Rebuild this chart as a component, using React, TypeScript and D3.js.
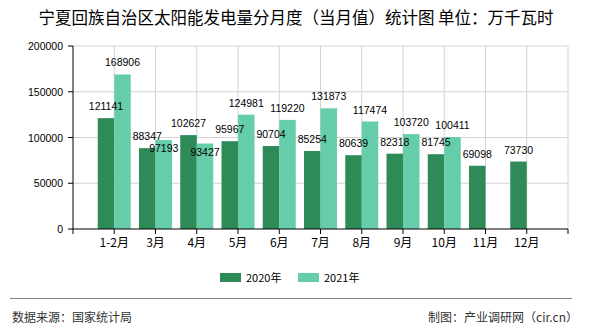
import React from "react";
import * as d3 from "d3";

const months = ["1-2月", "3月", "4月", "5月", "6月", "7月", "8月", "9月", "10月", "11月", "12月"];
const values2020 = [121141, 88347, 102627, 95967, 90704, 85254, 80639, 82318, 81745, 69098, 73730];
const values2021: (number | null)[] = [168906, 97193, 93427, 124981, 119220, 131873, 117474, 103720, 100411, null, null];
const yTicks = [0, 50000, 100000, 150000, 200000];
const seriesNames = ["2020年", "2021年"];
const colors = ["#2e8b57", "#66cdaa"];

const W = 590;
const H = 330;
const left = 73;
const right = 568;
const top = 46;
const bottom = 229;

export default function App() {
  const domain = ["__start", ...months, "__end"];
  const x = d3.scalePoint<string>().domain(domain).range([left, right]);
  const step = x.step();
  const y = d3.scaleLinear().domain([0, 200000]).range([bottom, top]);
  const barW = step * 0.4;
  const labelFont = "'Liberation Sans', Arial, sans-serif";
  const cjk = "'Noto Sans CJK SC', sans-serif";

  const bars: React.ReactNode[] = [];
  const labels: React.ReactNode[] = [];
  months.forEach((m, i) => {
    const cx = x(m)!;
    const v0 = values2020[i];
    const v1 = values2021[i];
    const t0 = y(v0);
    bars.push(<rect key={"a" + i} x={cx - barW} y={t0} width={barW} height={bottom - t0} fill={colors[0]} />);
    labels.push(
      <text key={"la" + i} x={cx - barW / 2} y={t0 - 8} textAnchor="middle" fontSize={10.5} fontFamily={labelFont} fill="#000">
        {v0}
      </text>
    );
    if (v1 != null) {
      const t1 = y(v1);
      bars.push(<rect key={"b" + i} x={cx} y={t1} width={barW} height={bottom - t1} fill={colors[1]} />);
      const overlap = Math.abs(t1 - t0) < 12;
      labels.push(
        <text key={"lb" + i} x={cx + barW / 2} y={overlap ? t1 + 12 : t1 - 8} textAnchor="middle" fontSize={10.5} fontFamily={labelFont} fill="#000">
          {v1}
        </text>
      );
    }
  });

  return (
    <svg width={W} height={H} style={{ position: "absolute", left: 0, top: 0, background: "#fff" }}>
      <rect x={0} y={0} width={W} height={H} fill="#fff" />
      <text x={296} y={24} textAnchor="middle" fontSize={16.5} fontFamily={cjk} fontWeight={400} fill="#000">
        宁夏回族自治区太阳能发电量分月度（当月值）统计图 单位：万千瓦时
      </text>
      {yTicks.filter((t) => t > 0).map((t) => (
        <line key={"gh" + t} x1={left} x2={right} y1={y(t)} y2={y(t)} stroke="#d3d3d3" strokeWidth={1} />
      ))}
      {domain.slice(1).map((d) => (
        <line key={"gv" + d} x1={x(d)!} x2={x(d)!} y1={top} y2={bottom} stroke="#d3d3d3" strokeWidth={1} />
      ))}
      {bars}
      <line x1={left} x2={left} y1={top} y2={bottom} stroke="#000" strokeWidth={1} />
      <line x1={left} x2={right} y1={bottom} y2={bottom} stroke="#000" strokeWidth={1} />
      {yTicks.map((t) => (
        <g key={"yt" + t}>
          <line x1={left - 5} x2={left} y1={y(t)} y2={y(t)} stroke="#000" />
          <text x={63} y={y(t) + 4} textAnchor="end" fontSize={10.5} fontFamily={labelFont} fill="#000">
            {t}
          </text>
        </g>
      ))}
      {domain.map((d) => (
        <line key={"xt" + d} x1={x(d)!} x2={x(d)!} y1={bottom} y2={bottom + 5} stroke="#000" />
      ))}
      {months.map((m) => (
        <text key={"xl" + m} x={x(m)!} y={247} textAnchor="middle" fontSize={12} fontFamily={cjk} fill="#000">
          {m}
        </text>
      ))}
      {labels}
      {seriesNames.map((s, i) => (
        <g key={"lg" + s} transform={`translate(${220 + i * 78},273)`}>
          <rect x={0} y={0} width={21} height={9} fill={colors[i]} />
          <text x={26} y={8.5} fontSize={11} fontFamily={cjk} fill="#000">
            {s}
          </text>
        </g>
      ))}
      <line x1={10} x2={572} y1={298.5} y2={298.5} stroke="#808080" strokeWidth={1} />
      <text x={12} y={322} fontSize={12} fontFamily={cjk} fill="#333">
        数据来源：国家统计局
      </text>
      <text x={578} y={322} textAnchor="end" fontSize={12} fontFamily={cjk} fill="#333">
        制图：产业调研网（cir.cn）
      </text>
    </svg>
  );
}
